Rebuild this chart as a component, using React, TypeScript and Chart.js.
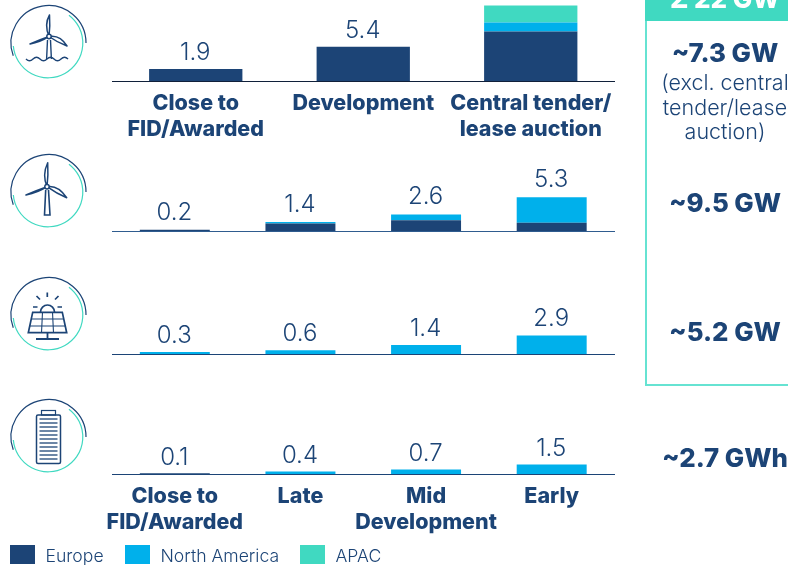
import React, { useEffect, useRef } from "react";
import { Chart, registerables } from "chart.js";

Chart.register(...registerables);

const NAVY = "#1C4476";
const CYAN = "#00B0EB";
const TEAL = "#40D9C1";
const FONT = "Inter, sans-serif";

const seriesNames = ["Europe", "North America", "APAC"];

const offshoreCategories = [["Close to", "FID/Awarded"], ["Development"], ["Central tender/", "lease auction"]];
const offshoreEurope = [1.9, 5.4, 7.8];
const offshoreNorthAmerica = [0, 0, 1.4];
const offshoreApac = [0, 0, 2.7];
const offshoreTotals = [1.9, 5.4, null];

const stageCategories = [["Close to", "FID/Awarded"], ["Late"], ["Mid", "Development"], ["Early"]];

const onshoreEurope = [0.2, 1.2, 1.7, 1.3];
const onshoreNorthAmerica = [0, 0.2, 0.9, 4.0];
const onshoreTotals = [0.2, 1.4, 2.6, 5.3];

const solarNorthAmerica = [0.3, 0.6, 1.4, 2.9];
const solarTotals = [0.3, 0.6, 1.4, 2.9];

const storageEurope = [0.1, 0, 0, 0];
const storageNorthAmerica = [0, 0.4, 0.7, 1.5];
const storageTotals = [0.1, 0.4, 0.7, 1.5];

const PX_PER_UNIT = 6.35;

type Panel = {
  top: number; baseline: number; height: number; categories: any[]; totals: (number | null)[];
  series: [string, number[], string][]; axisColor: string; showTicks: boolean; labelGap: number;
};

const panels: Panel[] = [
  { top: 0, baseline: 81, height: 150, categories: offshoreCategories, totals: offshoreTotals, axisColor: "#10203a", showTicks: true, labelGap: 9,
    series: [[seriesNames[0], offshoreEurope, NAVY], [seriesNames[1], offshoreNorthAmerica, CYAN], [seriesNames[2], offshoreApac, TEAL]] },
  { top: 160, baseline: 231, height: 80, categories: stageCategories, totals: onshoreTotals, axisColor: "#2F5C8F", showTicks: false, labelGap: 10,
    series: [[seriesNames[0], onshoreEurope, NAVY], [seriesNames[1], onshoreNorthAmerica, CYAN]] },
  { top: 280, baseline: 354, height: 80, categories: stageCategories, totals: solarTotals, axisColor: NAVY, showTicks: false, labelGap: 9.5,
    series: [[seriesNames[1], solarNorthAmerica, CYAN]] },
  { top: 400, baseline: 474, height: 135, categories: stageCategories, totals: storageTotals, axisColor: NAVY, showTicks: true, labelGap: 8.5,
    series: [[seriesNames[0], storageEurope, NAVY], [seriesNames[1], storageNorthAmerica, CYAN]] },
];

function PanelChart({ panel }: { panel: Panel }) {
  const ref = useRef<HTMLCanvasElement>(null);
  useEffect(() => {
    const plotHeight = panel.baseline - panel.top;
    const axisHeight = panel.height - plotHeight;
    const totalsPlugin = {
      id: "totals",
      afterDatasetsDraw(chart: any) {
        const { ctx, scales } = chart;
        ctx.save();
        ctx.font = `300 24px ${FONT}`;
        ctx.fillStyle = NAVY;
        ctx.textAlign = "center";
        ctx.textBaseline = "alphabetic";
        panel.totals.forEach((t, i) => {
          if (t == null) return;
          ctx.fillText(t.toFixed(1), scales.x.getPixelForValue(i) - 0.5, scales.y.getPixelForValue(t) - panel.labelGap);
        });
        ctx.restore();
      },
    };
    const chart = new Chart(ref.current!, {
      type: "bar",
      data: {
        labels: panel.categories,
        datasets: panel.series.map(([label, data, color]) => ({
          label, data, backgroundColor: color, borderWidth: 0,
          barPercentage: 0.557, categoryPercentage: 1,
        })),
      },
      options: {
        animation: false,
        responsive: false,
        layout: { padding: { left: 112, right: 173.5, top: 0, bottom: 0 } },
        plugins: { legend: { display: false }, tooltip: { enabled: false } },
        scales: {
          x: {
            stacked: true,
            afterFit: (s: any) => { s.height = axisHeight; },
            grid: { display: false, drawTicks: false },
            border: { color: panel.axisColor, width: 1 },
            ticks: {
              display: panel.showTicks, autoSkip: false, maxRotation: 0, minRotation: 0, padding: 9.5,
              color: NAVY, font: { family: FONT, weight: 800, size: 21.5, lineHeight: 1.22 },
            },
          },
          y: { stacked: true, display: false, min: 0, max: plotHeight / PX_PER_UNIT },
        },
      } as any,
      plugins: [totalsPlugin],
    });
    return () => chart.destroy();
  }, [panel]);
  return (
    <canvas ref={ref} width={788} height={panel.height}
      style={{ position: "absolute", left: 0, top: panel.top, width: 788, height: panel.height }} />
  );
}

function polar(cx: number, cy: number, r: number, deg: number) {
  const a = (deg * Math.PI) / 180;
  return [cx + r * Math.cos(a), cy + r * Math.sin(a)];
}
function arc(cx: number, cy: number, r: number, from: number, to: number) {
  const [x1, y1] = polar(cx, cy, r, from);
  const [x2, y2] = polar(cx, cy, r, to);
  const large = ((to - from + 360) % 360) > 180 ? 1 : 0;
  return `M${x1} ${y1}A${r} ${r} 0 ${large} 1 ${x2} ${y2}`;
}

function Rings() {
  return (
    <>
      <path d={arc(48.5, 43, 37.5, 160, 0)} fill="none" stroke={NAVY} strokeWidth={1.2} />
      <path d={arc(48, 43, 34.8, -53, 175)} fill="none" stroke={TEAL} strokeWidth={1.2} />
    </>
  );
}

function Blades({ hx, hy, up, right, left }: any) {
  const blade = (t: number[], bulge: number[]) =>
    `M${hx} ${hy}Q${bulge[0]} ${bulge[1]} ${t[0]} ${t[1]}Q${(hx + t[0]) / 2 - (bulge[0] - (hx + t[0]) / 2) * 0.2} ${(hy + t[1]) / 2 - (bulge[1] - (hy + t[1]) / 2) * 0.2} ${hx} ${hy}Z`;
  return (
    <g fill="none" stroke={NAVY} strokeWidth={1.5} strokeLinejoin="round">
      <path d={blade(up, [hx - 5, hy - 12])} />
      <path d={blade(right, [hx + 11, hy - 2])} />
      <path d={blade(left, [hx - 9, hy + 6])} />
      <circle cx={hx} cy={hy} r={2.2} fill="#fff" />
    </g>
  );
}

function Icons() {
  const stripes = [419, 423, 427, 431, 435, 439, 443, 447, 451, 455, 459];
  return (
    <svg width={100} height={565} style={{ position: "absolute", left: 0, top: 0 }}>
      <g><Rings />
        <Blades hx={49} hy={36.5} up={[49.5, 15]} right={[67, 46]} left={[30, 44]} />
        <path d="M47.5 40L46.6 59M50.5 40L51.4 59" fill="none" stroke={NAVY} strokeWidth={1.4} />
        <path d="M26 59q3.5 3.5 7 0t7 0t7 0t7 0t7 0t7 0" fill="none" stroke={NAVY} strokeWidth={1.4} />
      </g>
      <g transform="translate(0 149)"><Rings /></g>
      <Blades hx={47} hy={186.7} up={[47.7, 162.7]} right={[66.7, 197.7]} left={[26, 195]} />
      <path d="M45.7 190L44.5 215H50L48.5 190" fill="none" stroke={NAVY} strokeWidth={1.6} />
      <g transform="translate(0 272)"><Rings /></g>
      <g fill="none" stroke={NAVY} strokeWidth={1.7}>
        <path d="M40.5 312A7 7 0 1 1 54.5 312" />
        <path d="M47.3 292.5V297M36.5 296L40 299.500M58.500 296L55 299.500M33 307H37.500M57.500 307H62" />
        <path d="M32.700 312.300H62.300L66.700 332.700H28.300Z" />
        <path d="M31 319H64M29.500 326H66M42.500 312.300L41.500 332.700M52.500 312.300L53.500 332.700" strokeWidth={1.1} />
        <path d="M47.500 332.700V339M36 339H59" strokeWidth={1.8} />
      </g>
      <g transform="translate(0 394)"><Rings /></g>
      <g fill="none" stroke={NAVY}>
        <rect x={36.500} y={415} width={24} height={48.500} rx={1.500} strokeWidth={1.500} />
        <rect x={41.500} y={410.500} width={14} height={4.500} strokeWidth={1.200} />
        {stripes.map((y) => <path key={y} d={`M39.500 ${y}H57.500`} strokeWidth={1.300} />)}
      </g>
    </svg>
  );
}

const summaryRows = [
  { text: "~7.3 GW", y: 53 },
  { text: "~9.5 GW", y: 203 },
  { text: "~5.2 GW", y: 332 },
  { text: "~2.7 GWh", y: 458 },
];
const summaryNote = ["(excl. central", "tender/lease", "auction)"];
const legendX = [10, 125, 300];

export default function App() {
  const label: React.CSSProperties = { position: "absolute", left: 645, width: 160, textAlign: "center", color: NAVY, fontFamily: FONT, whiteSpace: "nowrap" };
  return (
    <div style={{ position: "fixed", left: 0, top: 0, width: 788, height: 565, overflow: "hidden", background: "#fff" }}>
      {panels.map((p, i) => <PanelChart key={i} panel={p} />)}
      <Icons />
      <div style={{ position: "absolute", left: 645, top: -20, width: 200, height: 401.500, border: "2px solid #66E3D2", borderRightWidth: 0, boxSizing: "content-box" }} />
      <div style={{ position: "absolute", left: 645, top: 0, width: 200, height: 21, background: TEAL }} />
      <div style={{ ...label, top: -16, height: 30, lineHeight: "30px", fontSize: 26, fontWeight: 800, color: "#fff" }}>Σ 22 GW</div>
      {summaryRows.map((r) => (
        <div key={r.text} style={{ ...label, top: r.y - 16, height: 32, lineHeight: "32px", fontSize: 25.800, fontWeight: 800 }}>{r.text}</div>
      ))}
      {summaryNote.map((t, i) => (
        <div key={t} style={{ ...label, top: 70 + i * 24.700, height: 24, lineHeight: "24px", fontSize: 21.500, fontWeight: 300 }}>{t}</div>
      ))}
      {seriesNames.map((name, i) => (
        <React.Fragment key={name}>
          <div style={{ position: "absolute", left: legendX[i], top: 545, width: 25, height: 19, background: [NAVY, CYAN, TEAL][i] }} />
          <div style={{ position: "absolute", left: legendX[i] + 35.500, top: 545, height: 22, lineHeight: "22px", fontSize: 17.600, fontWeight: 300, color: NAVY, fontFamily: FONT, whiteSpace: "nowrap" }}>{name}</div>
        </React.Fragment>
      ))}
    </div>
  );
}
